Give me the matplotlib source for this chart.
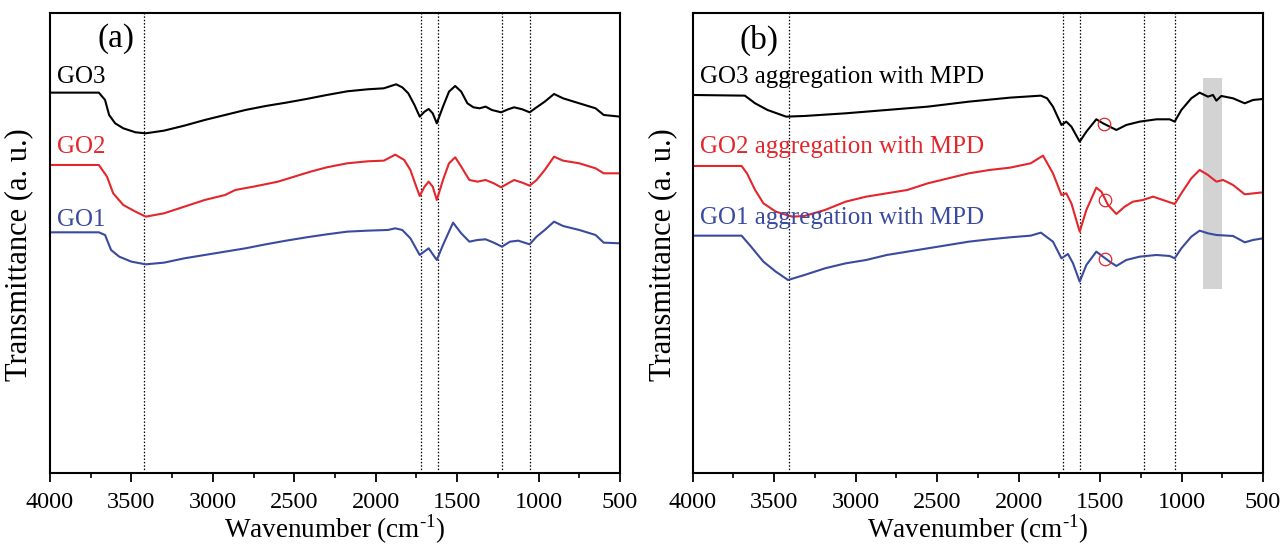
import numpy as np
import matplotlib
matplotlib.use('Agg')
import matplotlib.pyplot as plt

plt.rcParams['font.family'] = ['Liberation Serif', 'DejaVu Serif']
plt.rcParams['mathtext.fontset'] = 'custom'
plt.rcParams['mathtext.rm'] = 'Liberation Serif'

# ---- panel (a): GO samples ----
wn_go3 = [4000, 3700, 3662, 3637, 3600, 3550, 3475, 3412, 3300, 3175, 3050, 2925, 2800, 2675,
          2550, 2425, 2300, 2175, 2050, 1950, 1875, 1837, 1800, 1762, 1730, 1700, 1675, 1650,
          1625, 1587, 1550, 1512, 1475, 1437, 1400, 1362, 1325, 1287, 1230, 1187, 1150, 1100,
          1055, 1012, 962, 905, 850, 750, 650, 600, 500]
t_go3 = [114.1, 114.1, 111.9, 107.4, 104.9, 103.4, 102.2, 101.9, 102.7, 104.2, 105.9, 107.4, 108.9, 110.1,
         111.1, 112.2, 113.4, 114.5, 115.1, 115.4, 116.6, 115.7, 113.9, 110.4, 106.9, 108.4, 109.2, 107.9,
         104.9, 109.9, 114.4, 116.1, 114.4, 110.9, 109.7, 109.4, 109.9, 108.9, 108.2, 109.1, 109.7, 109.1,
         108.2, 109.7, 111.4, 113.7, 112.4, 110.9, 109.4, 107.4, 106.9]

wn_go2 = [4000, 3700, 3650, 3612, 3550, 3475, 3412, 3300, 3175, 3050, 2925, 2862, 2750, 2600,
          2500, 2400, 2300, 2175, 2050, 1950, 1880, 1825, 1787, 1762, 1730, 1700, 1675, 1650,
          1625, 1587, 1550, 1512, 1475, 1425, 1375, 1325, 1275, 1230, 1187, 1150, 1100, 1055,
          1012, 962, 905, 850, 750, 650, 600, 500]
t_go2 = [92.4, 92.4, 88.9, 83.9, 80.4, 78.4, 76.9, 77.9, 79.9, 81.9, 83.4, 84.9, 85.9, 87.4,
         88.9, 90.4, 91.7, 92.9, 93.5, 93.7, 95.5, 93.9, 90.9, 87.4, 83.1, 85.9, 87.4, 85.9,
         81.9, 87.9, 92.9, 94.7, 91.9, 87.9, 87.4, 87.9, 86.9, 85.7, 86.9, 87.9, 87.1, 86.2,
         87.9, 90.9, 94.9, 93.7, 92.9, 91.4, 89.9, 89.9]

wn_go1 = [4000, 3700, 3662, 3625, 3575, 3500, 3412, 3300, 3175, 3050, 2925, 2800, 2675, 2550,
          2425, 2300, 2175, 2050, 1925, 1880, 1837, 1787, 1730, 1675, 1625, 1587, 1525, 1475,
          1425, 1375, 1325, 1275, 1225, 1175, 1125, 1055, 1012, 962, 905, 850, 750, 650, 600, 500]
t_go1 = [72.2, 72.2, 71.4, 66.9, 64.9, 63.4, 62.6, 63.1, 64.4, 65.4, 66.4, 67.4, 68.6, 69.7,
         70.7, 71.6, 72.4, 72.7, 72.9, 73.4, 72.9, 70.4, 65.4, 67.4, 63.9, 68.4, 75.1, 71.9,
         69.4, 69.9, 70.1, 69.1, 67.9, 69.4, 69.7, 68.6, 70.9, 72.9, 75.4, 74.1, 72.9, 71.4, 69.1, 68.9]

# ---- panel (b): GO aggregation with MPD ----
wn_m3 = [4000, 3680, 3617, 3541, 3427, 3314, 3061, 2809, 2557, 2305, 2052, 1863, 1825, 1789,
         1737, 1707, 1676, 1625, 1584, 1523, 1482, 1441, 1400, 1339, 1257, 1154, 1073, 1042,
         1001, 940, 889, 838, 807, 786, 756, 684, 612, 561, 500]
t_m3 = [113.4, 113.2, 110.9, 108.9, 106.9, 107.1, 107.9, 108.9, 109.9, 111.4, 112.6, 113.2, 112.4, 109.9,
        104.4, 105.4, 103.9, 99.4, 102.4, 106.1, 104.9, 103.9, 102.9, 104.4, 105.4, 106.1, 106.1, 105.4,
        108.9, 112.4, 114.1, 112.9, 113.4, 111.7, 113.1, 112.4, 110.9, 111.9, 112.2]

wn_m2 = [4000, 3700, 3667, 3617, 3566, 3490, 3389, 3314, 3188, 3061, 2935, 2809, 2683, 2557,
         2431, 2305, 2178, 2052, 1926, 1850, 1789, 1737, 1707, 1676, 1625, 1584, 1523, 1492,
         1451, 1400, 1349, 1298, 1236, 1175, 1114, 1042, 1001, 940, 889, 838, 786, 745, 684, 612, 500]
t_m2 = [92.1, 92.1, 89.9, 84.9, 80.9, 78.4, 76.9, 77.1, 78.9, 81.4, 82.9, 83.9, 84.9, 86.9,
        88.4, 89.9, 90.9, 91.6, 92.9, 95.2, 89.9, 83.4, 83.9, 80.9, 72.4, 78.9, 85.6, 84.4,
        80.4, 77.7, 79.9, 81.4, 81.9, 82.9, 81.9, 80.7, 83.9, 88.4, 90.9, 89.4, 87.4, 87.9, 86.4, 83.6, 84.2]

wn_m1 = [4000, 3700, 3642, 3566, 3490, 3415, 3314, 3188, 3061, 2935, 2809, 2683, 2557, 2431,
         2305, 2178, 2052, 1926, 1863, 1789, 1737, 1697, 1666, 1625, 1584, 1523, 1482, 1441,
         1400, 1339, 1257, 1154, 1073, 1042, 1001, 940, 889, 838, 786, 684, 612, 561, 500]
t_m1 = [71.2, 71.2, 67.9, 63.4, 60.4, 57.9, 59.4, 61.4, 62.9, 63.9, 65.4, 66.4, 67.4, 68.4,
        69.4, 70.1, 70.7, 71.2, 72.1, 69.4, 64.4, 65.7, 62.9, 57.4, 62.4, 66.4, 64.9, 63.4,
        62.1, 63.9, 64.9, 65.4, 65.1, 64.4, 67.4, 70.9, 72.7, 71.9, 71.4, 71.1, 69.2, 69.9, 70.4]

peaks_a = [3420, 1720, 1620, 1225, 1055]
peaks_b = [3410, 1725, 1622, 1228, 1038]
circle_wn = [1476, 1470, 1470]
circle_t = [104.6, 81.9, 64.2]
band = (870, 750, 55.2, 118.4)

black = 'black'
red = '#e3262c'
blue = '#3a4a9e'

fig = plt.figure(figsize=(12.85, 5.45), dpi=100)
ax1 = fig.add_axes([50 / 1285, 72 / 545, 570 / 1285, 459.7 / 545])
ax2 = fig.add_axes([692.7 / 1285, 72 / 545, 570.3 / 1285, 459.7 / 545])

for ax, lx in ((ax1, -0.030), (ax2, -0.027)):
    ax.set_xlim(4000, 500)
    ax.set_ylim(0, 137.9)
    ax.set_xticks([4000, 3500, 3000, 2500, 2000, 1500, 1000, 500])
    ax.set_xticks(np.arange(750, 4000, 500), minor=True)
    ax.set_yticks([])
    ax.tick_params(axis='x', which='major', direction='out', length=6.5, width=1.3,
                   labelsize=17.5, pad=7, top=False)
    ax.tick_params(axis='x', which='minor', direction='out', length=3.5, width=1.2, top=False)
    for s in ax.spines.values():
        s.set_linewidth(1.5)
    ax.set_xlabel(r'Wavenumber (cm$^{\mathregular{\text{-}1}}$)', fontsize=19.5, labelpad=0)
    ax.set_ylabel('Transmittance (a. u.)', fontsize=22, labelpad=4)
    ax.yaxis.set_label_coords(lx, 0.474)

# panel (a)
for p in peaks_a:
    ax1.axvline(p, color='black', ls=(0, (1.2, 1.5)), lw=0.9, zorder=1)
ax1.plot(wn_go3, t_go3, color=black, lw=1.5)
ax1.plot(wn_go2, t_go2, color=red, lw=1.5)
ax1.plot(wn_go1, t_go1, color=blue, lw=1.5)
ax1.text(3955, 118.8, 'GO3', color=black, fontsize=18, va='center', ha='left')
ax1.text(3955, 97.9, 'GO2', color=red, fontsize=18, va='center', ha='left')
ax1.text(3955, 75.9, 'GO1', color=blue, fontsize=18, va='center', ha='left')
ax1.text(3595, 130.2, '(a)', fontsize=24, va='center', ha='center')

# panel (b)
ax2.fill_between([band[0], band[1]], band[2], band[3], color='#d3d3d3', lw=0, zorder=0.5)
for p in peaks_b:
    ax2.axvline(p, color='black', ls=(0, (1.2, 1.5)), lw=0.9, zorder=1)
ax2.plot(wn_m3, t_m3, color=black, lw=1.5)
ax2.plot(wn_m2, t_m2, color=red, lw=1.5)
ax2.plot(wn_m1, t_m1, color=blue, lw=1.5)
ax2.plot(circle_wn, circle_t, ls='none', marker='o', ms=9, mfc='none', mec=red, mew=0.9)
ax2.text(3957, 118.9, 'GO3 aggregation with MPD', color=black, fontsize=18, va='center', ha='left')
ax2.text(3957, 97.9, 'GO2 aggregation with MPD', color=red, fontsize=18, va='center', ha='left')
ax2.text(3957, 76.4, 'GO1 aggregation with MPD', color=blue, fontsize=18, va='center', ha='left')
ax2.text(3596, 129.9, '(b)', fontsize=24, va='center', ha='center')

fig.savefig('out.png', dpi=100)
